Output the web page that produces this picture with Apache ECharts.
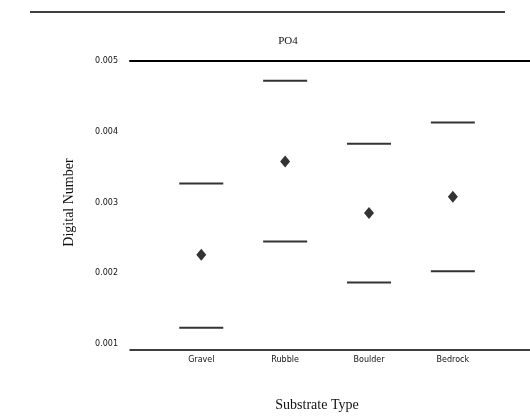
<!DOCTYPE html>
<html>
<head>
<meta charset="utf-8">
<script src="https://cdn.jsdelivr.net/npm/echarts@6/dist/echarts.min.js"></script>
<style>html,body{margin:0;padding:0;background:#fff;}#c{width:530px;height:418px;}</style>
</head>
<body>
<div id="c"></div>
<script>
var categories = ['Gravel', 'Rubble', 'Boulder', 'Bedrock'];
var upperValues = [0.00327, 0.00472, 0.00383, 0.00413];
var meanValues = [0.00226, 0.00358, 0.00285, 0.00308];
var lowerValues = [0.00123, 0.00245, 0.00187, 0.00203];
var yTickLabels = ['0.001', '0.002', '0.003', '0.004', '0.005'];
var yTickValues = [0.001, 0.002, 0.003, 0.004, 0.005];

function pts(arr) { return arr.map(function (v, i) { return [i, v]; }); }

var chart = echarts.init(document.getElementById('c'));
chart.setOption({
  animation: false,
  backgroundColor: '#fff',
  title: {
    text: 'PO4', left: 283, top: 31, textAlign: 'center',
    textStyle: { fontFamily: 'Liberation Serif', fontSize: 11, fontWeight: 'normal', color: '#111' }
  },
  graphic: [{
    type: 'line', shape: { x1: 30, y1: 12, x2: 505, y2: 12 },
    style: { stroke: '#000', lineWidth: 1.5 }, silent: true
  }],
  grid: { left: 130, right: 0, top: 61, bottom: 74 },
  xAxis: [{
    type: 'value', min: -0.85, max: 3.92, position: 'bottom', offset: 6,
    axisLine: { show: true, lineStyle: { color: '#000', width: 1.5 } },
    axisTick: { show: false }, splitLine: { show: false },
    axisLabel: {
      customValues: [0, 1, 2, 3],
      formatter: function (v) { return categories[Math.round(v)] || ''; },
      fontFamily: 'DejaVu Sans', fontSize: 8, color: '#111', margin: 6
    },
    name: 'Substrate Type', nameLocation: 'middle', nameGap: 48,
    nameTextStyle: { fontFamily: 'Liberation Serif', fontSize: 14, color: '#111', padding: [0, 26, 0, 0] }
  }, {
    type: 'value', min: -0.85, max: 3.92, position: 'top',
    axisLine: { show: true, lineStyle: { color: '#000', width: 2 } },
    axisTick: { show: false }, splitLine: { show: false }, axisLabel: { show: false }
  }],
  yAxis: {
    type: 'value', min: 0.001, max: 0.005, interval: 0.001,
    axisLine: { show: false }, axisTick: { show: false }, splitLine: { show: false },
    axisLabel: {
      formatter: function (v) {
        for (var i = 0; i < yTickValues.length; i++) {
          if (Math.abs(yTickValues[i] - v) < 1e-9) return yTickLabels[i];
        }
        return '';
      },
      fontFamily: 'DejaVu Sans', fontSize: 8, color: '#111', margin: 12
    },
    name: 'Digital Number', nameLocation: 'middle', nameGap: 54,
    nameTextStyle: { fontFamily: 'Liberation Serif', fontSize: 14, color: '#111' }
  },
  series: [{
    type: 'scatter', data: pts(upperValues), symbol: 'rect', symbolSize: [44, 2],
    itemStyle: { color: '#000' }
  }, {
    type: 'scatter', data: pts(meanValues), symbol: 'diamond', symbolSize: [10, 12],
    itemStyle: { color: '#000' }
  }, {
    type: 'scatter', data: pts(lowerValues), symbol: 'rect', symbolSize: [44, 2],
    itemStyle: { color: '#000' }
  }]
});
</script>
</body>
</html>
